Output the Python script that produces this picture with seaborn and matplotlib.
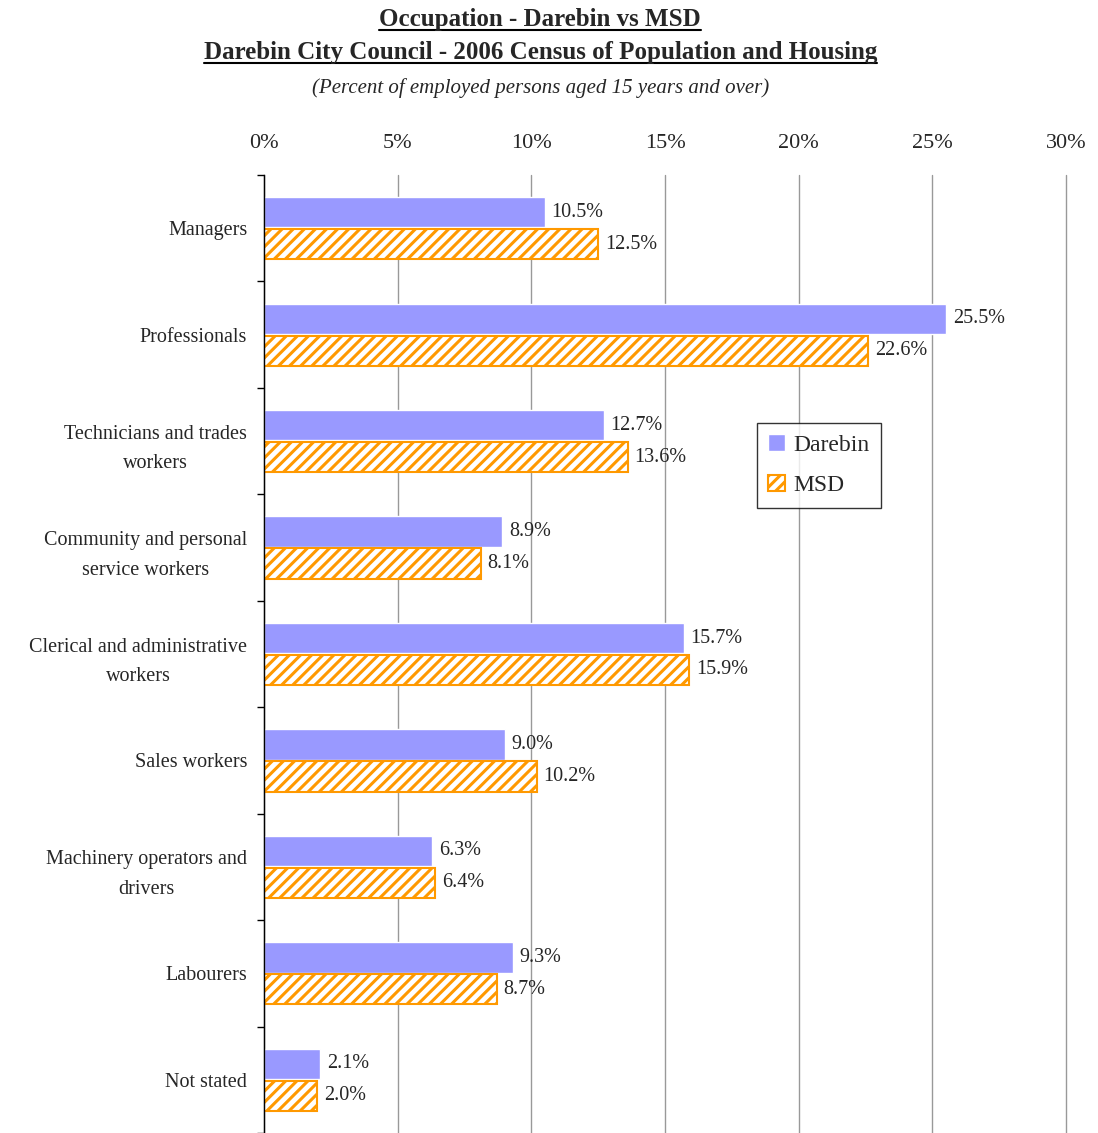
import pandas as pd
import seaborn as sns
import matplotlib.pyplot as plt
from matplotlib.lines import Line2D
from matplotlib.ticker import FuncFormatter, FixedLocator

# data
occupations = ['Managers', 'Professionals', 'Technicians and trades\nworkers',
               'Community and personal\nservice workers', 'Clerical and administrative\nworkers',
               'Sales workers', 'Machinery operators and\ndrivers', 'Labourers', 'Not stated']
darebin = [10.5, 25.5, 12.7, 8.9, 15.7, 9.0, 6.3, 9.3, 2.1]
msd = [12.5, 22.6, 13.6, 8.1, 15.9, 10.2, 6.4, 8.7, 2.0]
areas = ['Darebin', 'MSD']

df = pd.DataFrame({
    'Occupation': occupations * 2,
    'Percent': darebin + msd,
    'Area': ['Darebin'] * len(darebin) + ['MSD'] * len(msd),
})

sns.set_style('white')
plt.rcParams['font.family'] = ['Liberation Serif', 'DejaVu Serif']
plt.rcParams['hatch.linewidth'] = 2.2

purple = '#9999FF'
orange = '#FF9900'

fig = plt.figure(figsize=(10.98, 11.33), dpi=100)
ax = fig.add_axes([0.2404, 0.0, 0.7305, 0.8455])

sns.barplot(data=df, y='Occupation', x='Percent', hue='Area', hue_order=areas,
            orient='h', palette=[purple, orange], saturation=1, width=0.6,
            gap=0.05, ax=ax, legend=False)

# MSD bars: white with orange hatch
for p in ax.containers[1]:
    p.set_facecolor('white')
    p.set_edgecolor(orange)
    p.set_hatch('///')
    p.set_linewidth(1.5)

for c in ax.containers:
    ax.bar_label(c, fmt='%.1f%%', padding=5, fontsize=14.5)

ax.set_xlim(0, 30)
ax.set_xticks(range(0, 31, 5))
ax.xaxis.set_major_formatter(FuncFormatter(lambda v, pos: f'{v:.0f}%'))
ax.xaxis.tick_top()
ax.tick_params(axis='x', length=0, labelsize=16, pad=16)
ax.grid(axis='x', color='#999999', linewidth=1)
ax.set_axisbelow(True)
for gl in ax.get_xgridlines():
    gl.set_clip_on(False)

ax.tick_params(axis='y', which='major', length=0, labelsize=14.5, pad=12)
for lbl in ax.get_yticklabels():
    lbl.set_multialignment('center')
    lbl.set_linespacing(1.75)
ax.yaxis.set_minor_locator(FixedLocator([i - 0.5 for i in range(len(occupations) + 1)]))
ax.tick_params(axis='y', which='minor', length=5, width=1, color='black', left=True)
ax.set_xlabel('')
ax.set_ylabel('')

for s in ['top', 'right', 'bottom']:
    ax.spines[s].set_visible(False)
ax.spines['left'].set_color('black')
ax.spines['left'].set_linewidth(1)

handles = [ax.containers[0][0], ax.containers[1][0]]
leg = fig.legend(handles, areas, loc='upper left', bbox_to_anchor=(0.689, 0.627),
                 fontsize=17, frameon=True, fancybox=False, handlelength=0.7,
                 handleheight=0.7, handletextpad=0.35, labelspacing=0.8,
                 borderpad=0.5, borderaxespad=0, edgecolor='black')
leg.get_frame().set_linewidth(1)

# titles with underline
t1 = fig.text(0.492, 0.983, 'Occupation - Darebin vs MSD', ha='center', va='center',
              fontsize=18, fontweight='bold')
t2 = fig.text(0.492, 0.954, 'Darebin City Council - 2006 Census of Population and Housing',
              ha='center', va='center', fontsize=18, fontweight='bold')
fig.text(0.492, 0.922, '(Percent of employed persons aged 15 years and over)',
         ha='center', va='center', fontsize=15, style='italic')

fig.canvas.draw()
r = fig.canvas.get_renderer()
inv = fig.transFigure.inverted()
for t in (t1, t2):
    bb = t.get_window_extent(r)
    (x0, y0), (x1, _) = inv.transform([(bb.x0, bb.y0 + 1), (bb.x1, bb.y0)])
    fig.add_artist(Line2D([x0, x1], [y0, y0], color='black', linewidth=1.5,
                          transform=fig.transFigure))

fig.savefig('out.png', dpi=100)
